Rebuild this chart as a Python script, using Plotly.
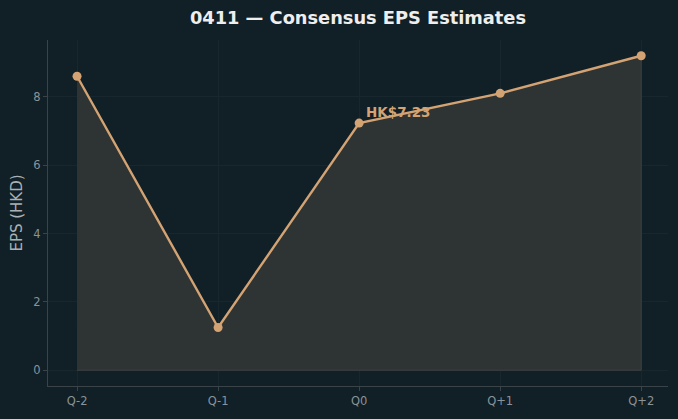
import plotly.graph_objects as go

quarters = ["Q-2", "Q-1", "Q0", "Q+1", "Q+2"]
eps = [8.6, 1.25, 7.23, 8.1, 9.2]
highlight_label = "HK$7.23"
highlight_idx = 2

BG = "#111f26"
LINE = "#d4a373"
GRID = "#18272e"
SPINE = "#3a4347"
TICK = "#8a9399"

fig = go.Figure()

# filled area polygon (like fill_between with edge)
fig.add_trace(go.Scatter(
    x=quarters + quarters[::-1],
    y=eps + [0] * len(eps),
    fill="toself",
    fillcolor="#2e3434",
    line=dict(color="#3e4242", width=1),
    mode="lines",
    hoverinfo="skip",
    showlegend=False,
))

fig.add_trace(go.Scatter(
    x=quarters, y=eps,
    mode="lines+markers",
    line=dict(color=LINE, width=2.4),
    marker=dict(color=LINE, size=9),
    showlegend=False,
))

fig.add_annotation(
    x=quarters[highlight_idx], y=eps[highlight_idx],
    xref="x", yref="y",
    text=f"<b>{highlight_label}</b>",
    showarrow=False,
    xanchor="left", yanchor="middle",
    xshift=5, yshift=11,
    font=dict(family="DejaVu Sans", size=13.5, color=LINE),
)

fig.update_layout(
    width=678, height=419,
    paper_bgcolor=BG, plot_bgcolor=BG,
    margin=dict(l=48, r=10, t=40, b=33),
    font=dict(family="DejaVu Sans", color=TICK),
    title=dict(
        text="<b>0411 — Consensus EPS Estimates</b>",
        x=0.528, xanchor="center",
        y=1 - 18 / 419, yanchor="middle", yref="container",
        font=dict(family="DejaVu Sans", size=17.8, color="#eeeeee"),
    ),
)

fig.update_xaxes(
    type="category",
    range=[-0.206, 4.19],
    showgrid=True, gridcolor=GRID, gridwidth=1,
    showline=True, linecolor=SPINE, linewidth=1,
    ticks="outside", ticklen=4, tickcolor=SPINE,
    tickfont=dict(size=11.5, color=TICK),
    zeroline=False,
)
fig.update_yaxes(
    range=[-0.46, 9.66],
    dtick=2, tick0=0,
    showgrid=True, gridcolor=GRID, gridwidth=1,
    showline=True, linecolor=SPINE, linewidth=1,
    ticks="outside", ticklen=4, tickcolor=SPINE,
    tickfont=dict(size=11.5, color=TICK),
    zeroline=False,
    title=dict(text="EPS (HKD)", font=dict(size=15, color="#a9b1b5"), standoff=7),
)

fig.write_html("out.html")
